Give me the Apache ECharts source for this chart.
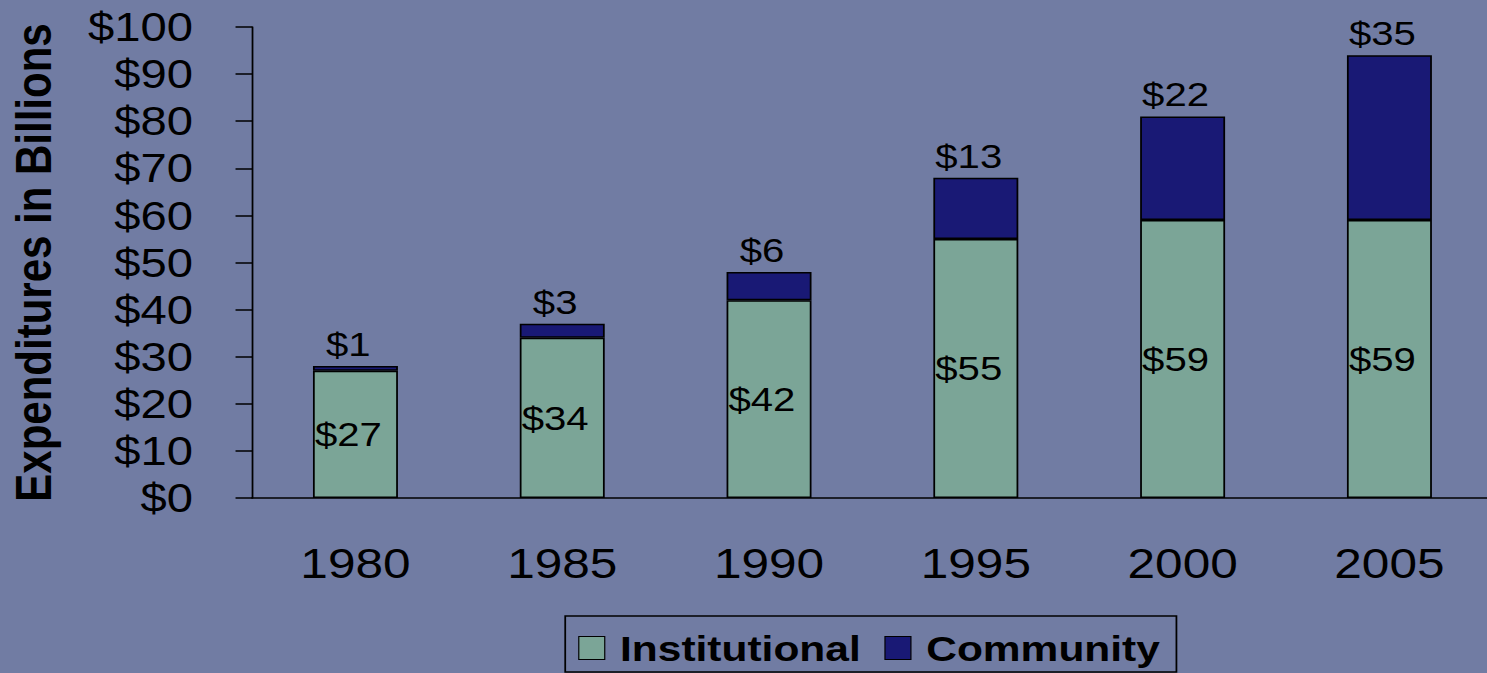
<html>
    <head>
        <meta http-equiv="Content-Type" content="text/html; charset=utf-8" />
        <title>Expenditures in Billions</title>
        <style>
            body { margin: 0; background: #717ca3; overflow: hidden; }
            /* chart is drawn narrower and stretched sideways, like the original slide */
            #main { width: 1270px; height: 673px; transform: scaleX(1.18); transform-origin: 0 0; }
        </style>
    </head>
    <body>
        <div id="main"></div>
    </body>
    <script src="https://cdn.jsdelivr.net/npm/echarts@6/dist/echarts.min.js" type="text/javascript"></script>
    <script type="text/javascript">
    var years = ['1980', '1985', '1990', '1995', '2000', '2005'];
    var institutional = [27, 34, 42, 55, 59, 59];
    var community = [1, 3, 6, 13, 22, 35];

    var fontName = "'Liberation Sans', Arial, sans-serif";

    var myChart = echarts.init(document.getElementById('main'), null, { renderer: 'svg' });

    myChart.setOption({
        backgroundColor: '#717ca3',
        animation: false,
        textStyle: { fontFamily: fontName },
        grid: {
            left: 213.6,
            top: 27,
            width: 1051.5,
            height: 471,
            containLabel: false,
            outerBoundsMode: 'none'
        },
        legend: {
            left: 479,
            top: 616,
            padding: [14, 14, 6, 11],
            borderColor: '#000',
            borderWidth: 1.5,
            itemWidth: 22,
            itemHeight: 23,
            itemGap: 20,
            icon: 'rect',
            itemStyle: { borderColor: '#000', borderWidth: 1 },
            textStyle: {
                fontSize: 36,
                fontWeight: 'bold',
                color: '#000',
                fontFamily: fontName,
                padding: [0, 0, 0, 8]
            },
            data: ['Institutional', 'Community']
        },
        xAxis: {
            type: 'category',
            data: years,
            axisLine: { lineStyle: { color: '#000', width: 1.5 } },
            axisTick: { length: 12, lineStyle: { color: '#000', width: 1.5 } },
            axisLabel: { fontSize: 42, color: '#000', margin: 44, fontFamily: fontName }
        },
        yAxis: {
            type: 'value',
            min: 0,
            max: 100,
            interval: 10,
            name: 'Expenditures in Billions',
            nameLocation: 'middle',
            nameRotate: 90,
            nameGap: 164,
            nameTextStyle: { fontSize: 42, fontWeight: 'bold', color: '#000', fontFamily: fontName },
            axisLine: { show: true, lineStyle: { color: '#000', width: 1.5 } },
            axisTick: { show: true, length: 14, lineStyle: { color: '#000', width: 1.5 } },
            splitLine: { show: false },
            axisLabel: { fontSize: 40, color: '#000', margin: 50, formatter: '${value}', fontFamily: fontName }
        },
        series: [
            {
                name: 'Institutional',
                type: 'bar',
                stack: 'total',
                barWidth: 72,
                data: institutional,
                itemStyle: { color: '#7ba597', borderColor: '#000', borderWidth: 1.5 },
                label: {
                    show: true,
                    position: 'inside',
                    offset: [-6, 0],
                    formatter: '${c}',
                    fontSize: 34,
                    color: '#000',
                    fontFamily: fontName
                }
            },
            {
                name: 'Community',
                type: 'bar',
                stack: 'total',
                barWidth: 72,
                data: community,
                itemStyle: { color: '#191975', borderColor: '#000', borderWidth: 1.5 },
                label: {
                    show: true,
                    position: 'top',
                    offset: [-6, 0],
                    formatter: '${c}',
                    fontSize: 34,
                    color: '#000',
                    fontFamily: fontName
                }
            }
        ]
    });
    </script>
</html>
